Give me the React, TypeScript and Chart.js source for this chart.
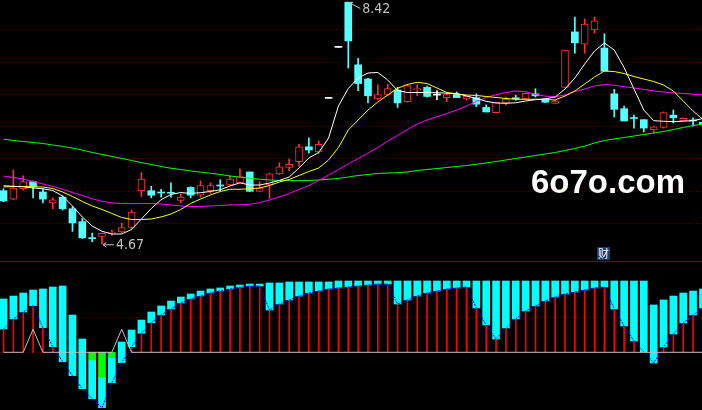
import React, { useEffect, useRef } from 'react';
import { Chart, registerables } from 'chart.js';

Chart.register(...registerables);

// ---------- data ----------
const OPEN = [5.50, 5.37, 5.53, 5.64, 5.48, 5.31, 5.40, 5.22, 5.02, 4.763, 4.79, 4.845, 4.86, 4.93, 5.50, 5.50, 5.472, 5.472, 5.35, 5.55, 5.43, 5.50, 5.581, 5.59, 5.62, 5.79, 5.49, 5.59, 5.76, 5.86, 5.95, 6.18, 6.10, 6.93, 7.72, 8.42, 7.45, 7.23, 6.92, 6.99, 7.06, 6.88, 7.065, 7.10, 6.98, 6.94, 6.99, 6.92, 6.94, 6.79, 6.71, 6.86, 6.94, 6.92, 7.00, 6.92, 6.85, 7.10, 7.96, 7.77, 7.99, 7.71, 7.00, 6.77, 6.626, 6.60, 6.44, 6.48, 6.67, 6.58, 6.587, 6.56];
const CLOSE = [5.34, 5.54, 5.64, 5.56, 5.37, 5.36, 5.22, 5.00, 4.77, 4.757, 4.84, 4.853, 4.93, 5.17, 5.68, 5.43, 5.464, 5.46, 5.40, 5.43, 5.58, 5.58, 5.573, 5.68, 5.72, 5.49, 5.54, 5.76, 5.87, 5.91, 6.18, 6.13, 6.22, 6.93, 7.72, 7.82, 7.16, 6.97, 6.99, 7.08, 6.86, 7.13, 7.072, 6.96, 6.98, 6.99, 6.94, 6.96, 6.84, 6.72, 6.87, 6.92, 6.92, 7.01, 6.97, 6.87, 6.89, 7.68, 7.79, 8.08, 8.13, 7.35, 6.76, 6.58, 6.618, 6.47, 6.49, 6.71, 6.63, 6.62, 6.58, 6.52];
const HIGH = [5.53, 5.82, 5.73, 5.65, 5.53, 5.39, 5.42, 5.25, 5.07, 4.845, 4.845, 4.89, 5.00, 5.20, 5.78, 5.57, 5.52, 5.62, 5.45, 5.56, 5.65, 5.62, 5.67, 5.73, 5.84, 5.79, 5.64, 5.77, 5.93, 5.99, 6.22, 6.32, 6.27, 6.93, 7.72, 8.42, 7.55, 7.24, 7.14, 7.15, 7.10, 7.15, 7.14, 7.12, 7.05, 7.02, 7.03, 6.97, 7.00, 6.83, 6.87, 6.95, 6.98, 7.015, 7.08, 6.92, 6.90, 7.68, 8.19, 8.16, 8.19, 7.93, 7.07, 6.81, 6.67, 6.60, 6.50, 6.72, 6.75, 6.63, 6.63, 6.56];
const LOW = [5.33, 5.36, 5.51, 5.39, 5.31, 5.22, 5.20, 4.87, 4.76, 4.71, 4.67, 4.81, 4.85, 4.91, 5.41, 5.39, 5.40, 5.40, 5.31, 5.39, 5.40, 5.46, 5.50, 5.58, 5.62, 5.49, 5.49, 5.38, 5.75, 5.81, 5.88, 6.08, 6.08, 6.93, 7.72, 7.40, 7.05, 6.86, 6.91, 6.97, 6.79, 6.87, 6.97, 6.95, 6.91, 6.88, 6.94, 6.90, 6.80, 6.72, 6.705, 6.83, 6.90, 6.915, 6.95, 6.865, 6.85, 7.10, 7.63, 7.63, 7.94, 7.35, 6.64, 6.58, 6.47, 6.41, 6.39, 6.47, 6.55, 6.58, 6.50, 6.515];

const MA5 = [5.577, 5.568, 5.560, 5.542, 5.530, 5.503, 5.418, 5.263, 5.093, 4.953, 4.871, 4.829, 4.829, 4.899, 5.062, 5.224, 5.361, 5.441, 5.472, 5.457, 5.469, 5.488, 5.514, 5.573, 5.622, 5.588, 5.588, 5.619, 5.658, 5.712, 5.852, 6.007, 6.092, 6.316, 6.812, 7.083, 7.246, 7.323, 7.331, 7.215, 7.052, 7.021, 7.021, 7.021, 7.018, 7.010, 7.006, 6.967, 6.928, 6.885, 6.858, 6.854, 6.862, 6.889, 6.910, 6.923, 6.951, 7.075, 7.246, 7.463, 7.664, 7.788, 7.679, 7.408, 7.075, 6.750, 6.584, 6.575, 6.569, 6.577, 6.584, 6.618];
const MA10 = [5.557, 5.565, 5.565, 5.560, 5.557, 5.534, 5.480, 5.410, 5.333, 5.263, 5.209, 5.147, 5.085, 5.054, 5.054, 5.062, 5.093, 5.139, 5.209, 5.302, 5.371, 5.433, 5.488, 5.522, 5.522, 5.531, 5.542, 5.581, 5.635, 5.674, 5.736, 5.797, 5.852, 5.976, 6.169, 6.440, 6.595, 6.750, 6.874, 6.982, 7.086, 7.145, 7.179, 7.160, 7.091, 7.021, 6.998, 6.982, 6.975, 6.959, 6.944, 6.928, 6.916, 6.916, 6.916, 6.913, 6.905, 6.967, 7.044, 7.153, 7.261, 7.354, 7.346, 7.315, 7.269, 7.230, 7.191, 7.137, 7.044, 6.889, 6.735, 6.603];
const MA20 = [5.725, 5.705, 5.681, 5.643, 5.604, 5.565, 5.522, 5.472, 5.426, 5.375, 5.336, 5.310, 5.302, 5.299, 5.302, 5.302, 5.294, 5.279, 5.263, 5.255, 5.255, 5.263, 5.271, 5.279, 5.283, 5.289, 5.314, 5.356, 5.403, 5.457, 5.519, 5.581, 5.658, 5.743, 5.828, 5.914, 5.999, 6.084, 6.169, 6.270, 6.355, 6.448, 6.533, 6.595, 6.646, 6.696, 6.750, 6.812, 6.882, 6.944, 6.987, 7.021, 7.044, 7.034, 6.990, 6.964, 6.956, 6.982, 7.037, 7.075, 7.122, 7.145, 7.133, 7.111, 7.091, 7.068, 7.044, 7.029, 7.016, 7.006, 6.995, 6.982];
const MA60 = [6.298, 6.278, 6.262, 6.247, 6.231, 6.208, 6.185, 6.161, 6.130, 6.092, 6.061, 6.030, 5.999, 5.968, 5.934, 5.906, 5.875, 5.847, 5.828, 5.805, 5.787, 5.770, 5.751, 5.728, 5.709, 5.692, 5.678, 5.666, 5.658, 5.658, 5.655, 5.658, 5.666, 5.677, 5.689, 5.712, 5.736, 5.751, 5.767, 5.774, 5.779, 5.790, 5.813, 5.828, 5.844, 5.859, 5.875, 5.890, 5.909, 5.929, 5.952, 5.976, 5.999, 6.022, 6.045, 6.069, 6.092, 6.123, 6.154, 6.192, 6.239, 6.278, 6.301, 6.324, 6.347, 6.371, 6.394, 6.417, 6.448, 6.479, 6.510, 6.533];

const PRICE_GRID = [8.0, 7.5, 7.0, 6.5, 6.0, 5.5, 5.0];

// indicator panel
const IND_TOP = [75.5, 79.7, 84.0, 88.2, 89.7, 92.5, 93.9, 52.8, 18.8, -10.9, -35.4, -7.6, 14.6, 31.6, 45.7, 57.1, 65.6, 72.7, 78.3, 82.6, 86.8, 89.7, 91.1, 93.9, 95.3, 96.7, 96.7, 98.2, 98.2, 99.6, 99.6, 99.6, 99.6, 99.6, 101, 101, 101, 101, 101, 101, 101, 101, 101, 101, 101, 101, 101, 101, 101, 101, 101, 101, 101, 101, 101, 101, 101, 101, 101, 101, 101, 101, 101, 101, 101, 101, 67.0, 74.1, 79.7, 84.0, 86.8, 89.7];
const IND_VAL = [33.0, 47.2, 57.1, 66.0, 34.8, 7.9, -13.3, -33.1, -51.6, -65.7, -78.5, -43.1, -14.7, 7.9, 26.9, 41.9, 52.8, 61.3, 69.8, 75.5, 79.7, 84.0, 86.8, 89.7, 92.1, 93.9, 93.9, 59.9, 68.4, 74.1, 79.7, 84.0, 86.8, 89.7, 91.1, 92.5, 93.9, 95.3, 96.7, 96.7, 68.4, 74.1, 79.7, 84.0, 86.8, 89.7, 91.1, 92.5, 62.7, 38.7, 18.8, 34.4, 47.2, 58.5, 65.6, 72.7, 78.3, 82.6, 85.4, 88.2, 91.1, 92.5, 61.3, 37.3, 16.0, 0.4, -15.2, 7.5, 25.9, 41.5, 52.8, 62.7];
const IND_GREEN: (number | null)[] = [null, null, null, null, null, null, null, null, null, -10.9, -35.4, -7.6, null, null, null, null, null, null, null, null, null, null, null, null, null, null, null, null, null, null, null, null, null, null, null, null, null, null, null, null, null, null, null, null, null, null, null, null, null, null, null, null, null, null, null, null, null, null, null, null, null, null, null, null, null, null, null, null, null, null, null, null];
const IND_SIGNAL = [0, 0, 0, 32.6, 0, 0, 0, 0, 0, 0, 0, 0, 32.6, 0, 0, 0, 0, 0, 0, 0, 0, 0, 0, 0, 0, 0, 0, 0, 0, 0, 0, 0, 0, 0, 0, 0, 0, 0, 0, 0, 0, 0, 0, 0, 0, 0, 0, 0, 0, 0, 0, 0, 0, 0, 0, 0, 0, 0, 0, 0, 0, 0, 0, 0, 0, 0, 0, 0, 0, 0, 0, 0];
const IND_GRID = [50];

const WATERMARK = '6o7o.com';
const BADGE = '财';

// ---------- styles ----------
const RED = '#ff3232';
const CYAN = '#54ffff';
const WHITE = '#ffffff';
const YELLOW = '#ffff00';
const MAGENTA = '#ff00ff';
const GREEN = '#00ff00';
const GRID = '#800000';
const DIVIDER = '#800000';
const LABEL = '#c0c0c0';
const IND_CYAN = '#00ffff';
const IND_RED = '#ff0000';
const IND_GREEN_C = '#00ff00';
const IND_BLUE = '#0000ff';
const IND_GRAY = '#c0c0c0';

const X_MIN = -0.3553;
const X_MAX = 70.907;
const P_MIN = 4.411;
const P_MAX = 8.4538;
const V_MIN = -81.7;
const V_MAX = 127.9;

const idx = OPEN.map((_, i) => i);
const kind = idx.map((i) => (CLOSE[i] > OPEN[i] ? 1 : CLOSE[i] < OPEN[i] ? -1 : 0));
const colorOf = (k: number) => (k > 0 ? RED : k < 0 ? CYAN : WHITE);

function drawArrow(ctx: CanvasRenderingContext2D, x0: number, y0: number, x1: number, y1: number) {
  ctx.beginPath();
  ctx.moveTo(x0, y0);
  ctx.lineTo(x1, y1);
  const a = Math.atan2(y1 - y0, x1 - x0);
  const L = 4;
  ctx.moveTo(x0, y0);
  ctx.lineTo(x0 + L * Math.cos(a + 0.6), y0 + L * Math.sin(a + 0.6));
  ctx.moveTo(x0, y0);
  ctx.lineTo(x0 + L * Math.cos(a - 0.6), y0 + L * Math.sin(a - 0.6));
  ctx.stroke();
}

const topPlugin = {
  id: 'topDeco',
  beforeDatasetsDraw(chart: any) {
    const { ctx, chartArea, scales } = chart;
    ctx.save();
    ctx.strokeStyle = GRID;
    ctx.lineWidth = 1;
    ctx.setLineDash([1, 3]);
    for (const v of PRICE_GRID) {
      const y = Math.round(scales.y.getPixelForValue(v)) + 0.5;
      ctx.beginPath();
      ctx.moveTo(chartArea.left + 0.5, y);
      ctx.lineTo(chartArea.right, y);
      ctx.stroke();
    }
    ctx.restore();
  },
  afterDatasetsDraw(chart: any) {
    const { ctx, scales, chartArea } = chart;
    let hi = 0;
    let lo = 0;
    idx.forEach((i) => {
      if (HIGH[i] > HIGH[hi]) hi = i;
      if (LOW[i] < LOW[lo]) lo = i;
    });
    ctx.save();
    ctx.strokeStyle = LABEL;
    ctx.fillStyle = LABEL;
    ctx.lineWidth = 1;
    ctx.font = '14px "Liberation Sans Narrow", "Arial Narrow", "DejaVu Sans Condensed", sans-serif';
    ctx.textBaseline = 'middle';
    const mark = (i: number, v: number) => {
      const x = scales.x.getPixelForValue(i);
      const y = scales.y.getPixelForValue(v);
      const ty = Math.min(Math.max(y, chartArea.top + 8), chartArea.bottom - 8);
      drawArrow(ctx, x + 1, y + 0.5, x + 12, ty + 0.5);
      ctx.fillText(v.toFixed(2), x + 14, ty + 1);
    };
    mark(hi, HIGH[hi]);
    mark(lo, LOW[lo]);
    ctx.restore();
  },
};

const botPlugin = {
  id: 'botDeco',
  beforeDatasetsDraw(chart: any) {
    const { ctx, chartArea, scales } = chart;
    ctx.save();
    ctx.strokeStyle = GRID;
    ctx.lineWidth = 1;
    ctx.setLineDash([1, 3]);
    for (const v of [...IND_GRID, 0]) {
      const y = Math.round(scales.y.getPixelForValue(v)) + 0.5;
      ctx.beginPath();
      ctx.moveTo(chartArea.left + 0.5, y);
      ctx.lineTo(chartArea.right, y);
      ctx.stroke();
    }
    ctx.restore();
  },
};

const lineDs = (data: number[], color: string, order: number, dash: number[] = []) => ({
  type: 'line' as const,
  data: data.map((y, i) => ({ x: i, y })),
  borderColor: color,
  borderWidth: 1,
  borderDash: dash,
  pointRadius: 0,
  tension: 0,
  order,
});

const baseOptions = (yMin: number, yMax: number) => ({
  responsive: false,
  animation: false as const,
  devicePixelRatio: 1,
  events: [],
  layout: { padding: 0 },
  plugins: { legend: { display: false }, tooltip: { enabled: false } },
  scales: {
    x: { type: 'linear' as const, min: X_MIN, max: X_MAX, display: false, offset: false, grid: { display: false } },
    y: { type: 'linear' as const, min: yMin, max: yMax, display: false, grid: { display: false } },
  },
});

export default function App() {
  const topRef = useRef<HTMLCanvasElement>(null);
  const botRef = useRef<HTMLCanvasElement>(null);

  useEffect(() => {
    document.body.style.margin = '0';
    document.body.style.background = '#000';

    const top = new Chart(topRef.current as HTMLCanvasElement, {
      type: 'bar',
      data: {
        datasets: [
          lineDs(MA5, WHITE, 0),
          lineDs(MA10, YELLOW, 0),
          lineDs(MA20, MAGENTA, 0),
          lineDs(MA60, GREEN, 0),
          {
            type: 'bar',
            data: idx.map((i) => ({ x: i, y: [OPEN[i], CLOSE[i]] })),
            backgroundColor: idx.map((i) => (kind[i] > 0 ? '#000000' : colorOf(kind[i]))),
            borderColor: idx.map((i) => colorOf(kind[i])),
            borderWidth: idx.map((i) => (kind[i] > 0 ? 1 : 0)),
            borderSkipped: false,
            barThickness: 7,
            minBarLength: 1,
            grouped: false,
            order: 1,
          } as any,
          {
            type: 'bar',
            data: idx.map((i) => ({ x: i, y: [LOW[i], HIGH[i]] })),
            backgroundColor: idx.map((i) => colorOf(kind[i])),
            borderWidth: 0,
            barThickness: 1,
            minBarLength: 1,
            grouped: false,
            order: 2,
          } as any,
        ],
      },
      options: baseOptions(P_MIN, P_MAX) as any,
      plugins: [topPlugin],
    });

    const bot = new Chart(botRef.current as HTMLCanvasElement, {
      type: 'bar',
      data: {
        datasets: [
          lineDs(IND_SIGNAL, IND_GRAY, 0),
          lineDs(IND_VAL, IND_BLUE, 1, [2, 1]),
          {
            type: 'bar',
            data: idx.filter((i) => IND_GREEN[i] !== null).map((i) => ({ x: i, y: [0, IND_GREEN[i] as number] })),
            backgroundColor: IND_GREEN_C,
            borderWidth: 0,
            barThickness: 7,
            grouped: false,
            order: 2,
          } as any,
          {
            type: 'bar',
            data: idx.map((i) => ({ x: i, y: [IND_TOP[i], IND_VAL[i]] })),
            backgroundColor: IND_CYAN,
            borderWidth: 0,
            barThickness: 7,
            grouped: false,
            order: 3,
          } as any,
          {
            type: 'bar',
            data: idx.filter((i) => IND_VAL[i] > 0).map((i) => ({ x: i, y: [0, IND_VAL[i]] })),
            backgroundColor: IND_RED,
            borderWidth: 0,
            barThickness: 1,
            grouped: false,
            order: 4,
          } as any,
        ],
      },
      options: baseOptions(V_MIN, V_MAX) as any,
      plugins: [botPlugin],
    });

    return () => {
      top.destroy();
      bot.destroy();
    };
  }, []);

  return (
    <div style={{ position: 'relative', width: 702, height: 410, background: '#000', overflow: 'hidden' }}>
      <canvas ref={topRef} width={702} height={261} style={{ position: 'absolute', left: 0, top: 0 }} />
      <div style={{ position: 'absolute', left: 0, top: 261, width: 702, height: 1, background: DIVIDER }} />
      <canvas ref={botRef} width={702} height={148} style={{ position: 'absolute', left: 0, top: 262 }} />
      <div
        style={{
          position: 'absolute',
          left: 531,
          top: 165,
          color: '#ffffff',
          font: 'bold 33px "Liberation Sans", Arial, sans-serif',
          lineHeight: '33px',
          whiteSpace: 'nowrap',
        }}
      >
        {WATERMARK}
      </div>
      <div
        style={{
          position: 'absolute',
          left: 597,
          top: 247,
          width: 13,
          height: 13,
          background: '#1e3c78',
          color: '#ffffff',
          font: '11px "Noto Sans CJK SC", sans-serif',
          lineHeight: '13px',
          textAlign: 'center',
        }}
      >
        {BADGE}
      </div>
    </div>
  );
}
